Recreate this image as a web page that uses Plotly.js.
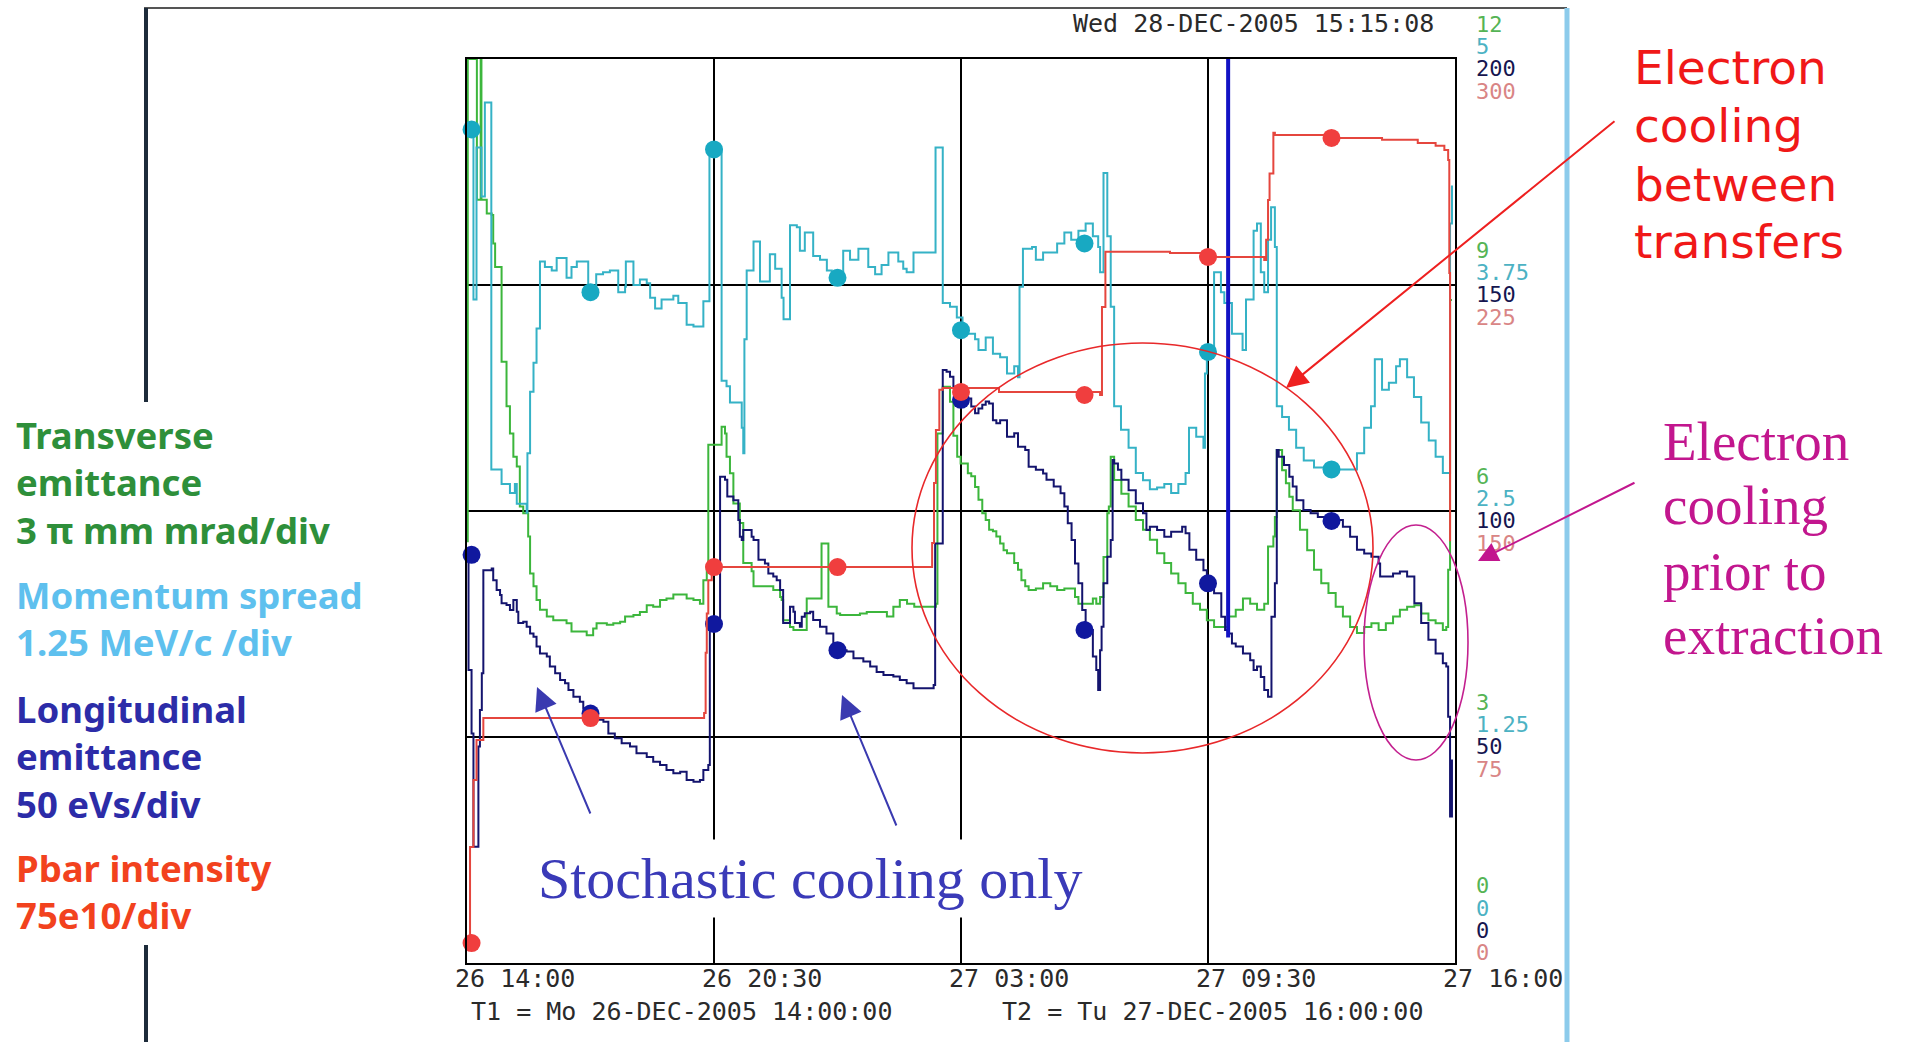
<!DOCTYPE html>
<html><head><meta charset="utf-8">
<script src="https://cdn.plot.ly/plotly-3.0.1.min.js"></script>
<style>html,body{margin:0;padding:0;background:#fff;overflow:hidden}#chart{width:1912px;height:1042px}</style>
</head><body><div id="chart"></div>
<script>
// ---- time axis (hours after 26-DEC 14:00) ----
const xTickVals = [0, 6.5, 13, 19.5, 26];
const xTickText = ['26 14:00', '26 20:30', '27 03:00', '27 09:30', '27 16:00'];

// ---- right-hand scale labels ----
const greenTickVals = [0, 3, 6, 9, 12];
const greenTickText = ['0', '3', '6', '9', '12'];
const cyanTickVals = [0, 1.25, 2.5, 3.75, 5];
const cyanTickText = ['0', '1.25', '2.5', '3.75', '5'];
const navyTickVals = [0, 50, 100, 150, 200];
const navyTickText = ['0', '50', '100', '150', '200'];
const redTickVals = [0, 75, 150, 225, 300];
const redTickText = ['0', '75', '150', '225', '300'];

// ---- Transverse emittance (pi mm mrad) ----
const greenTime = [0,0.02,0.26,0.26,0.36,0.38,0.43,0.52,0.65,0.69,0.74,0.91,1.00,1.04,1.13,1.22,1.31,1.39,1.48,1.61,1.66,1.75,1.83,1.92,2.10,2.27,2.62,2.75,3.15,3.32,3.41,3.68,3.85,4.03,4.16,4.38,4.55,4.73,4.90,5.08,5.25,5.43,5.78,5.96,6.13,6.22,6.31,6.35,6.70,6.79,6.83,6.92,7.01,7.18,7.27,7.49,7.54,8.06,8.24,8.28,8.32,8.50,8.59,8.94,9.33,9.51,9.73,9.82,10.34,10.52,11.05,11.22,11.39,11.58,11.77,12.34,12.38,12.52,12.71,12.80,12.90,12.99,13.18,13.27,13.37,13.46,13.56,13.65,13.74,13.84,13.93,14.03,14.12,14.21,14.40,14.50,14.59,14.69,14.78,14.97,15.16,15.35,15.53,15.72,16.00,16.09,16.47,16.56,16.66,16.75,16.85,16.89,16.94,17.03,17.22,17.41,17.60,17.79,17.97,18.16,18.35,18.53,18.72,18.91,19.10,19.29,19.47,19.66,20.04,20.23,20.42,20.61,20.79,20.98,21.08,21.22,21.26,21.31,21.45,21.55,21.64,21.73,21.92,22.11,22.29,22.48,22.67,22.86,23.05,23.24,23.42,23.61,23.80,23.99,24.18,24.37,24.55,24.74,24.93,25.11,25.30,25.49,25.68,25.77,25.82,25.87,25.92];
const greenValue = [5.6,12.0,12.0,10.13,12.0,10.13,10.13,9.95,9.93,9.55,9.24,7.98,7.98,7.39,7.03,6.72,6.59,6.06,5.97,5.66,5.17,5.00,4.82,4.69,4.60,4.55,4.51,4.40,4.35,4.44,4.51,4.49,4.51,4.53,4.60,4.62,4.66,4.75,4.73,4.82,4.84,4.89,4.84,4.82,4.77,5.08,5.26,6.88,7.12,7.03,6.72,6.50,6.10,5.84,5.31,5.20,5.00,4.95,4.86,4.82,4.55,4.46,4.42,4.84,5.57,4.73,4.64,4.62,4.64,4.66,4.60,4.73,4.82,4.77,4.73,4.77,7.03,7.65,7.45,7.00,6.72,6.63,6.50,6.46,6.32,6.15,5.97,5.88,5.75,5.73,5.66,5.57,5.48,5.44,5.31,5.22,5.08,5.00,4.95,4.97,5.04,5.00,4.95,4.97,4.86,4.77,4.84,4.77,4.86,5.39,5.97,6.06,6.72,6.41,6.23,6.06,5.88,5.75,5.62,5.44,5.31,5.17,5.04,4.91,4.77,4.69,4.55,4.46,4.60,4.69,4.84,4.77,4.69,4.77,5.53,5.66,5.92,6.81,6.54,6.37,6.19,6.01,5.75,5.48,5.22,5.04,4.91,4.73,4.60,4.46,4.38,4.46,4.51,4.42,4.51,4.60,4.69,4.73,4.75,4.64,4.55,4.51,4.42,4.46,5.22,8.8,8.8];

// ---- Momentum spread (MeV/c) ----
const cyanTime = [0,0.17,0.17,0.25,0.25,0.38,0.47,0.64,0.64,0.91,0.91,1.13,1.13,1.26,1.31,1.57,1.59,1.66,1.75,1.83,1.92,2.05,2.23,2.36,2.62,2.75,2.89,3.19,3.40,3.58,3.76,3.98,4.16,4.18,4.38,4.55,4.73,4.82,4.95,5.12,5.43,5.56,5.78,5.96,6.22,6.38,6.70,6.83,6.92,7.23,7.27,7.30,7.36,7.54,7.71,7.97,8.11,8.28,8.33,8.50,8.68,8.76,8.89,9.11,9.29,9.47,9.60,9.77,9.90,10.08,10.30,10.56,10.74,10.91,11.09,11.35,11.48,11.57,11.75,12.33,12.52,12.71,12.89,13.04,13.18,13.37,13.46,13.65,13.84,14.03,14.21,14.40,14.50,14.54,14.63,14.87,14.97,15.16,15.53,15.72,15.90,16.09,16.28,16.47,16.61,16.66,16.75,16.85,16.94,17.03,17.21,17.41,17.60,17.79,17.97,18.16,18.35,18.53,18.72,18.91,19.00,19.19,19.38,19.42,19.47,19.66,19.84,19.93,20.13,20.41,20.50,20.70,20.79,20.89,20.98,21.08,21.16,21.26,21.31,21.45,21.63,21.82,22.02,22.29,22.58,22.76,23.42,23.61,23.79,23.89,24.08,24.26,24.45,24.55,24.74,24.92,25.11,25.31,25.49,25.68,25.87,25.92];
const cyanValue = [4.61,4.61,3.67,3.67,4.51,4.24,4.76,4.76,2.73,2.71,2.65,2.65,2.60,2.65,2.54,2.49,2.82,3.16,3.32,3.51,3.88,3.85,3.83,3.90,3.79,3.85,3.88,3.74,3.81,3.82,3.83,3.71,3.74,3.88,3.75,3.78,3.76,3.68,3.62,3.67,3.69,3.65,3.53,3.52,3.66,4.50,3.22,3.19,3.10,2.96,2.82,3.45,3.83,3.99,3.77,3.92,3.84,3.68,3.56,4.08,4.07,3.94,4.04,3.91,3.89,3.83,3.81,3.79,3.94,3.89,3.95,3.85,3.81,3.86,3.93,3.88,3.84,3.82,3.93,4.51,3.65,3.63,3.57,3.50,3.48,3.45,3.39,3.46,3.37,3.35,3.26,3.30,3.24,3.74,3.95,3.96,3.89,3.93,3.98,4.04,4.00,4.05,4.09,4.02,3.96,3.82,4.37,4.02,3.63,3.08,2.95,2.85,2.71,2.67,2.62,2.63,2.65,2.60,2.65,2.71,2.96,2.91,2.85,3.26,3.38,3.82,3.71,3.65,3.48,3.39,3.67,4.05,4.09,3.82,3.71,4.00,4.18,3.96,3.08,3.02,2.95,2.85,2.78,2.74,2.71,2.73,2.82,2.96,3.08,3.34,3.17,3.21,3.30,3.34,3.24,3.13,2.99,2.89,2.80,2.71,4.09,4.30];

// ---- Longitudinal emittance (eVs) ----
const navyTime = [0,0.04,0.12,0.12,0.17,0.17,0.25,0.30,0.34,0.39,0.43,0.65,0.69,0.78,0.87,0.91,1.04,1.13,1.22,1.31,1.35,1.48,1.57,1.66,1.75,1.83,1.92,2.10,2.18,2.32,2.45,2.58,2.67,2.80,2.97,3.06,3.19,3.41,3.59,3.72,3.89,4.07,4.29,4.46,4.73,4.90,5.08,5.25,5.43,5.61,5.78,5.96,6.13,6.22,6.35,6.39,6.60,6.66,6.79,6.85,7.01,7.14,7.18,7.23,7.27,7.49,7.54,7.67,7.84,7.93,8.06,8.15,8.24,8.32,8.32,8.50,8.59,8.63,8.76,8.81,8.89,9.03,9.11,9.29,9.46,9.64,9.82,9.99,10.17,10.43,10.61,10.78,10.96,11.22,11.39,11.57,11.75,12.28,12.32,12.48,12.52,12.62,12.71,12.80,12.90,12.99,13.09,13.18,13.27,13.37,13.46,13.56,13.65,13.74,13.84,13.93,14.03,14.21,14.40,14.50,14.69,14.78,14.97,15.16,15.25,15.44,15.62,15.72,15.81,15.91,16.00,16.09,16.19,16.28,16.47,16.56,16.61,16.66,16.70,16.75,16.85,16.94,16.99,17.03,17.13,17.22,17.41,17.60,17.79,17.88,17.97,18.16,18.35,18.53,18.82,18.91,19.01,19.19,19.38,19.47,19.66,19.85,19.95,20.04,20.13,20.23,20.42,20.61,20.70,20.79,20.89,20.98,21.08,21.17,21.26,21.31,21.36,21.50,21.64,21.73,21.83,22.01,22.20,22.39,22.58,22.77,23.05,23.24,23.42,23.61,23.80,23.99,24.03,24.37,24.55,24.74,24.93,25.11,25.30,25.49,25.68,25.77,25.82,25.87,25.92];
const navyValue = [90.3,64.8,64.1,50.8,44.9,25.7,25.7,47.9,56.0,64.1,86.9,87.3,84.7,82.5,81.4,79.6,79.2,78.1,80.3,77.7,75.2,75.5,74.4,72.9,72.2,70.0,68.5,67.8,65.6,64.1,62.6,61.9,60.4,58.9,57.8,56.3,55.2,53.8,53.4,50.8,49.7,48.6,47.9,46.4,45.6,44.5,43.8,42.7,42.0,42.3,40.5,40.1,40.5,42.7,43.8,75.0,75.0,107.6,106.9,103.2,102.4,98.0,94.3,93.6,95.8,94.3,93.6,89.2,88.4,86.2,85.5,84.7,82.5,78.1,75.2,78.8,77.7,75.2,74.4,76.6,77.4,77.7,75.9,74.4,72.9,70.7,69.2,68.9,67.4,66.7,65.6,64.4,63.7,63.4,62.6,61.9,60.8,61.5,92.8,92.8,131.2,130.8,129.7,127.5,125.3,124.6,123.8,124.9,123.1,121.6,122.7,123.5,124.2,123.8,120.1,119.4,120.1,116.4,117.2,114.2,113.5,109.8,109.1,108.3,106.9,105.4,103.9,101.0,97.3,93.6,88.4,84.0,78.1,73.7,67.8,64.8,60.4,69.2,74.4,84.0,89.9,93.6,111.3,110.5,109.1,106.9,104.6,101.7,99.5,95.8,96.5,95.8,94.3,95.4,96.5,95.1,91.4,89.2,86.9,84.0,81.8,76.6,73.7,72.9,70.7,70.0,68.5,67.0,64.8,65.6,63.3,60.4,58.9,76.6,84.0,113.5,112.0,110.2,107.6,105.4,102.4,100.2,99.5,98.7,98.0,98.0,96.5,94.3,91.4,90.6,89.9,88.4,85.5,86.2,86.6,85.5,79.6,75.2,71.5,68.5,66.3,65.6,54.5,32.4,45.0];
const navySpikeTime = [20.03, 20.03];
const navySpikeValue = [72, 200];

// ---- Pbar intensity (e10) ----
const redTime = [0,0.08,0.17,0.25,0.43,6.21,6.24,6.28,6.31,6.35,6.44,12.18,12.24,12.29,12.34,12.43,12.52,14.0,16.66,16.71,16.80,18.5,19.47,20.98,21.03,21.08,21.12,21.22,21.26,22.77,24.08,25.02,25.49,25.72,25.82,25.85,25.87];
const redValue = [6.6,38.5,60.7,74.0,81.3,81.3,83.0,103.0,116.0,127.0,131.4,131.4,139.4,159.3,176.9,190.2,190.8,189.5,188.5,217.7,236.0,235.6,234.3,233.3,240.0,253.2,262.0,275.5,274.8,273.8,273.2,272.1,271.2,269.8,266.5,229.0,140.0];

// ---- cursor markers (every half division) ----
const markerTime = [0.12, 3.25, 6.5, 9.75, 13.0, 16.25, 19.5, 22.75];
const cyanMarker = [4.61, 3.71, 4.50, 3.79, 3.50, 3.98, 3.38, 2.73];
const navyMarker = [90.3, 55.2, 75.0, 69.2, 124.6, 73.7, 84.0, 97.8];
const redMarker = [6.6, 81.3, 131.4, 131.4, 189.5, 188.5, 234.3, 273.8];

// ---- pixel helpers for annotation placement ----
const PL = 467, PR = 1455, PT = 59, PB = 963;
const px = X => (X - PL) / (PR - PL);
const py = Y => (PB - Y) / (PB - PT);

const C = {green:'#3cb63c', cyan:'#35b2c6', navy:'#14146e', red:'#e5463e'};
const line = (x, y, ax, color, w) => ({x, y, yaxis: ax, type:'scatter', mode:'lines',
  line:{color, width:w||2, shape:'hv'}, hoverinfo:'skip'});
const dots = (y, ax, color) => ({x: markerTime, y, yaxis: ax, type:'scatter', mode:'markers',
  marker:{color, size:18}, hoverinfo:'skip', cliponaxis:false});

const traces = [
  line(cyanTime, cyanValue, 'y2', C.cyan),
  line(greenTime, greenValue, 'y', C.green),
  line(navyTime, navyValue, 'y3', C.navy),
  line(redTime, redValue, 'y4', C.red),
  {x: navySpikeTime, y: navySpikeValue, yaxis:'y3', type:'scatter', mode:'lines', line:{color:'#1212c4', width:4}, hoverinfo:'skip'},
  dots(cyanMarker, 'y2', '#18a9c2'),
  dots(navyMarker, 'y3', '#10189e'),
  dots(redMarker, 'y4', '#f03e3e')
];

const mono = 'DejaVu Sans Mono, Liberation Mono, monospace';
const ann = [];
function tickAnn(vals, texts, yref, color, shift, zeroShift) {
  vals.forEach((v, i) => ann.push({xref:'paper', yref, x: px(1474), y: v, xanchor:'left', yanchor:'middle',
    text: texts[i], showarrow:false, yshift: v === 0 ? zeroShift : shift,
    font:{family: mono, size:22, color}}));
}
tickAnn(greenTickVals, greenTickText, 'y', '#55b455', 35, 78);
tickAnn(cyanTickVals, cyanTickText, 'y2', '#4cb2c3', 13, 55);
tickAnn(navyTickVals, navyTickText, 'y3', '#161650', -9, 33);
tickAnn(redTickVals, redTickText, 'y4', '#d98585', -32, 11);

// time tick labels, left-aligned just before each grid line
xTickVals.forEach((v, i) => ann.push({xref:'x', yref:'paper', x: v, y: py(978), xanchor:'left', yanchor:'middle',
  xshift:-14, text: xTickText[i], showarrow:false, font:{family: mono, size:25, color:'#2a2a2a'}}));

function txt(X, Y, text, font, extra) {
  ann.push(Object.assign({xref:'paper', yref:'paper', x: px(X), y: py(Y), xanchor:'left', yanchor:'middle',
    text, showarrow:false, font}, extra || {}));
}
txt(1071, 23, 'Wed 28-DEC-2005 15:15:08', {family: mono, size:25, color:'#2a2a2a'});
txt(469, 1012, 'T1 = Mo 26-DEC-2005 14:00:00', {family: mono, size:25, color:'#2a2a2a'});
txt(1000, 1012, 'T2 = Tu 27-DEC-2005 16:00:00', {family: mono, size:25, color:'#2a2a2a'});

const sans = 'Noto Sans, Lato, sans-serif';
const leg = [
  [['Transverse', 'emittance', '3 π mm mrad/div'], 483, '#2e8f3a'],
  [['Momentum spread', '1.25 MeV/c /div'], 618, '#5ec0ee'],
  [['Longitudinal', 'emittance', '50 eVs/div'], 756, '#2c2ca8'],
  [['Pbar intensity', '75e10/div'], 891, '#f2421e']
];
leg.forEach(l => txt(14, l[1], l[0].map(s => '<b>' + s + '</b>').join('<br>'),
  {family: sans, size:36.5, color: l[2]}, {align:'left'}));

[['Electron', 67], ['cooling', 126], ['between', 184], ['transfers', 241]].forEach(l =>
  txt(1632, l[1], l[0], {family:'DejaVu Sans, sans-serif', size:47, color:'#f01818'}));
[['Electron', 441], ['cooling', 506], ['prior to', 571], ['extraction', 635]].forEach(l =>
  txt(1661, l[1], l[0], {family:'Liberation Serif, serif', size:55, color:'#c2168e'}));

ann.push({xref:'paper', yref:'paper', x: px(810), y: py(878), xanchor:'center', yanchor:'middle',
  text:'Stochastic cooling only', showarrow:false, bgcolor:'#ffffff', borderpad:6,
  font:{family:'Liberation Serif, serif', size:58, color:'#3a3ab8'}});

function arrow(tx, ty, sx, sy, color, size) {
  ann.push({xref:'paper', yref:'paper', x: px(tx), y: py(ty), ax: sx - tx, ay: sy - ty, text:'',
    showarrow:true, arrowhead:2, arrowsize:size, arrowwidth:2, arrowcolor:color, standoff:0, startstandoff:0});
}
arrow(1286, 388, 1616, 120, '#ee2020', 2.2);
arrow(1478, 561, 1636, 482, '#c2168e', 2.0);
arrow(537, 687, 591, 815, '#3a3ab0', 2.3);
arrow(842, 695, 897, 827, '#3a3ab0', 2.3);

const shapes = [
  {type:'circle', xref:'paper', yref:'paper', x0:px(912), x1:px(1373), y0:py(753), y1:py(343), line:{color:'#e8282a', width:1.6}},
  {type:'circle', xref:'paper', yref:'paper', x0:px(1364), x1:px(1468), y0:py(760), y1:py(525), line:{color:'#c3208f', width:1.6}},
  {type:'line', xref:'paper', yref:'paper', x0:px(144), x1:px(1567), y0:py(8), y1:py(8), line:{color:'#555', width:2}},
  {type:'line', xref:'paper', yref:'paper', x0:px(146), x1:px(146), y0:py(8), y1:py(402), line:{color:'#1d2b3a', width:4}},
  {type:'line', xref:'paper', yref:'paper', x0:px(146), x1:px(146), y0:py(945), y1:py(1042), line:{color:'#1d2b3a', width:4}},
  {type:'line', xref:'paper', yref:'paper', x0:px(1567), x1:px(1567), y0:py(8), y1:py(1042), line:{color:'#8ccbeb', width:5}}
];

const hidden = r => ({range:r, overlaying:'y', visible:false, fixedrange:true});
const layout = {
  width:1912, height:1042, margin:{l:PL, r:1912-PR, t:PT, b:1042-PB, pad:0},
  paper_bgcolor:'#fff', plot_bgcolor:'#fff', showlegend:false, hovermode:false,
  xaxis:{range:[0,26], tickmode:'array', tickvals:xTickVals, showticklabels:false, showgrid:true,
    gridcolor:'#000', gridwidth:1.5, showline:true, mirror:true, linecolor:'#000', linewidth:2,
    zeroline:false, ticks:'', fixedrange:true},
  yaxis:{range:[0,12], tickmode:'array', tickvals:greenTickVals, showticklabels:false, showgrid:true,
    gridcolor:'#000', gridwidth:1.5, showline:true, mirror:true, linecolor:'#000', linewidth:2,
    zeroline:false, ticks:'', fixedrange:true},
  yaxis2: hidden([0,5]), yaxis3: hidden([0,200]), yaxis4: hidden([0,300]),
  annotations: ann, shapes
};
Plotly.newPlot('chart', traces, layout, {staticPlot:true, displayModeBar:false});
</script></body></html>
